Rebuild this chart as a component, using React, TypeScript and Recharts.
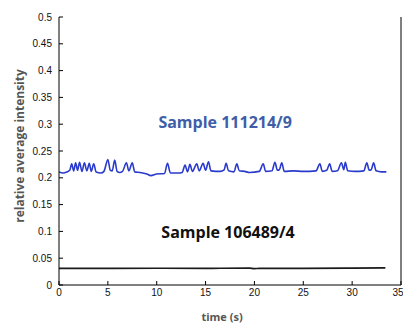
import React from 'react';
import { LineChart, Line, XAxis, YAxis, ReferenceDot } from 'recharts';

const xTicks = [0, 5, 10, 15, 20, 25, 30, 35];
const yTicks = [0, 0.05, 0.1, 0.15, 0.2, 0.25, 0.3, 0.35, 0.4, 0.45, 0.5];

const blueTime = [0, 0.4, 0.8, 1.1, 1.3, 1.5, 1.7, 1.9, 2.1, 2.35, 2.6, 2.85, 3.1, 3.3, 3.55, 3.8, 4.3, 4.6, 5.0, 5.25, 5.45, 5.7, 5.95, 6.2, 6.5, 6.9, 7.15, 7.5, 7.75, 8.3, 9.0, 9.4, 10.0, 10.8, 11.1, 11.4, 12.2, 12.6, 12.9, 13.15, 13.4, 13.65, 14.1, 14.35, 14.75, 15.0, 15.3, 15.55, 16.5, 16.9, 17.1, 17.35, 17.9, 18.2, 18.45, 19.0, 19.5, 20.5, 20.9, 21.15, 21.8, 22.1, 22.35, 22.55, 22.8, 23.05, 24.0, 25.0, 26.3, 26.7, 26.95, 27.4, 27.7, 27.95, 28.5, 28.9, 29.15, 29.3, 29.55, 30.3, 31.2, 31.5, 31.75, 31.95, 32.2, 32.45, 33.0, 33.5];
const blueValue = [0.211, 0.209, 0.211, 0.214, 0.226, 0.213, 0.228, 0.214, 0.229, 0.212, 0.228, 0.213, 0.227, 0.212, 0.226, 0.211, 0.209, 0.212, 0.234, 0.214, 0.213, 0.233, 0.212, 0.21, 0.212, 0.228, 0.213, 0.228, 0.211, 0.21, 0.207, 0.204, 0.207, 0.208, 0.227, 0.209, 0.209, 0.21, 0.224, 0.211, 0.225, 0.212, 0.226, 0.213, 0.227, 0.214, 0.23, 0.213, 0.212, 0.215, 0.227, 0.213, 0.211, 0.226, 0.213, 0.212, 0.21, 0.212, 0.226, 0.212, 0.213, 0.229, 0.214, 0.215, 0.228, 0.212, 0.213, 0.212, 0.213, 0.226, 0.212, 0.214, 0.226, 0.212, 0.213, 0.228, 0.215, 0.229, 0.213, 0.212, 0.213, 0.228, 0.214, 0.215, 0.228, 0.213, 0.211, 0.211];

const blackTime = [0, 5, 10, 15, 19.5, 20, 20.5, 25, 30, 33.4];
const blackValue = [0.031, 0.031, 0.0312, 0.031, 0.0315, 0.0305, 0.031, 0.031, 0.0315, 0.032];

const blueData = blueTime.map((t, i) => ({ t, v: blueValue[i] }));
const blackData = blackTime.map((t, i) => ({ t, v: blackValue[i] }));

const annotations = [
  { label: 'Sample 111214/9', t: 17, v: 0.305, color: '#3e5ea8' },
  { label: 'Sample 106489/4', t: 17.3, v: 0.099, color: '#111111' },
];

const fmt = (v: number) => (v === 0 ? '0' : String(Number(v.toFixed(2))));

const tickFont = { fontFamily: 'Liberation Sans, Arial, sans-serif', fontSize: 10, fill: '#111' };

export default function App() {
  return (
    <div style={{ position: 'absolute', left: 0, top: 0, width: 403, height: 325, background: '#fff' }}>
      <LineChart width={403} height={325} margin={{ top: 17, right: 0, bottom: 0, left: 0 }}>
        <XAxis
          xAxisId="b"
          dataKey="t"
          type="number"
          domain={[0, 35]}
          ticks={xTicks}
          allowDataOverflow
          height={40}
          tickSize={-4}
          tickMargin={8}
          tick={tickFont}
          axisLine={{ stroke: '#000', strokeWidth: 1 }}
          tickLine={{ stroke: '#000' }}
          label={{
            content: (props: any) => {
              const vb = props.viewBox;
              return (
                <text x={vb.x + vb.width / 2 - 8} y={321} textAnchor="middle" fontFamily="Open Sans, sans-serif" fontWeight={700} fontSize={11} fill="#555">
                  time (s)
                </text>
              );
            },
          }}
        />
        <XAxis
          xAxisId="t"
          orientation="top"
          dataKey="t"
          type="number"
          domain={[0, 35]}
          ticks={xTicks}
          allowDataOverflow
          height={0}
          tickSize={-4}
          tick={false}
          axisLine={{ stroke: '#000', strokeWidth: 1 }}
          tickLine={{ stroke: '#000' }}
        />
        <YAxis
          yAxisId="l"
          type="number"
          domain={[0, 0.5]}
          ticks={yTicks}
          allowDataOverflow
          width={59}
          tickSize={-4}
          tickMargin={11}
          tick={tickFont}
          tickFormatter={fmt}
          axisLine={{ stroke: '#000', strokeWidth: 1 }}
          tickLine={{ stroke: '#000' }}
          label={{
            content: (props: any) => {
              const vb = props.viewBox;
              const cy = vb.y + vb.height / 2 - 5;
              return (
                <text x={19} y={cy} transform={`rotate(-90 19 ${cy})`} textAnchor="middle" dominantBaseline="central" fontFamily="Open Sans, sans-serif" fontWeight={700} fontSize={12} fill="#555">
                  relative average intensity
                </text>
              );
            },
          }}
        />
        <YAxis
          yAxisId="r"
          orientation="right"
          type="number"
          domain={[0, 0.5]}
          ticks={yTicks}
          allowDataOverflow
          width={2}
          tickSize={-4}
          tick={false}
          axisLine={{ stroke: '#000', strokeWidth: 1 }}
          tickLine={{ stroke: '#000' }}
        />
        <Line
          xAxisId="b"
          yAxisId="l"
          data={blackData}
          dataKey="v"
          type="monotone"
          stroke="#1a1a1a"
          strokeWidth={1.6}
          dot={false}
          isAnimationActive={false}
        />
        <Line
          xAxisId="b"
          yAxisId="l"
          data={blueData}
          dataKey="v"
          type="monotone"
          stroke="#2a3bcc"
          strokeWidth={1.6}
          dot={false}
          isAnimationActive={false}
        />
        {annotations.map((a) => (
          <ReferenceDot
            key={a.label}
            xAxisId="b"
            yAxisId="l"
            x={a.t}
            y={a.v}
            r={0}
            fill="none"
            stroke="none"
            label={{
              content: (props: any) => {
                const vb = props.viewBox;
                const cx = vb.x + (vb.width || 0) / 2;
                const cy = vb.y + (vb.height || 0) / 2;
                return (
                  <text x={cx} y={cy} textAnchor="middle" dominantBaseline="central" fontFamily="Open Sans, sans-serif" fontWeight={700} fontSize={16} fill={a.color}>
                    {a.label}
                  </text>
                );
              },
            }}
          />
        ))}
      </LineChart>
    </div>
  );
}
